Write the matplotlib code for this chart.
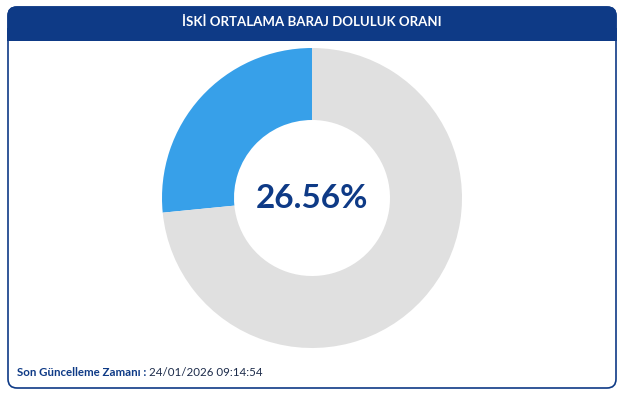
import matplotlib
matplotlib.use("Agg")
import matplotlib.pyplot as plt
from matplotlib.patches import FancyBboxPatch, Rectangle

title = "İSKİ ORTALAMA BARAJ DOLULUK ORANI"
fill_pct = 26.56
values = [fill_pct, 100 - fill_pct]
colors = ["#37a0e9", "#e0e0e0"]
update_label = "Son Güncelleme Zamanı :"
update_time = "24/01/2026 09:14:54"

W, H = 623, 397
navy = "#0e3a86"
fig = plt.figure(figsize=(W / 100, H / 100), dpi=100)
fig.patch.set_facecolor("white")

bg = fig.add_axes([0, 0, 1, 1])
bg.set_xlim(0, W)
bg.set_ylim(H, 0)
bg.axis("off")

card = FancyBboxPatch((8, 7), 608, 381, boxstyle="round,pad=0,rounding_size=9",
                      facecolor="white", edgecolor=navy, linewidth=1.2)
bg.add_patch(card)
header = FancyBboxPatch((7.4, 6.4), 609.2, 34, boxstyle="round,pad=0,rounding_size=9",
                        facecolor=navy, edgecolor="none")
bg.add_patch(header)
bg.add_patch(Rectangle((7.4, 28), 609.2, 12.5, facecolor=navy, edgecolor="none"))
bg.text(W / 2, 22, title, color="white", fontsize=9.5, fontweight="bold",
        family="Lato", ha="center", va="center")

t1 = bg.text(17, 372, update_label + " ", color=navy, fontsize=8.3, fontweight="bold",
             family="Lato", ha="left", va="center")
fig.canvas.draw()
bb = t1.get_window_extent()
x_end = bb.x1
bg.text(x_end, 372, update_time, color="#1c2b4a", fontsize=8.3, family="Lato",
        ha="left", va="center")

cx, cy, r = 312, 198, 150
ax = fig.add_axes([(cx - r) / W, (H - cy - r) / H, 2 * r / W, 2 * r / H])
ax.pie(values, colors=colors, startangle=90, counterclock=True,
       wedgeprops=dict(width=0.48, edgecolor="none", linewidth=0))
ax.set_xlim(-1, 1)
ax.set_ylim(-1, 1)
ax.set_aspect("auto")
ax.axis("off")
ax.text(0, 0, f"{fill_pct:.2f}%", color=navy, fontsize=24, fontweight="bold",
        family="Lato", ha="center", va="center")

fig.savefig("out.png", dpi=100, facecolor="white")
